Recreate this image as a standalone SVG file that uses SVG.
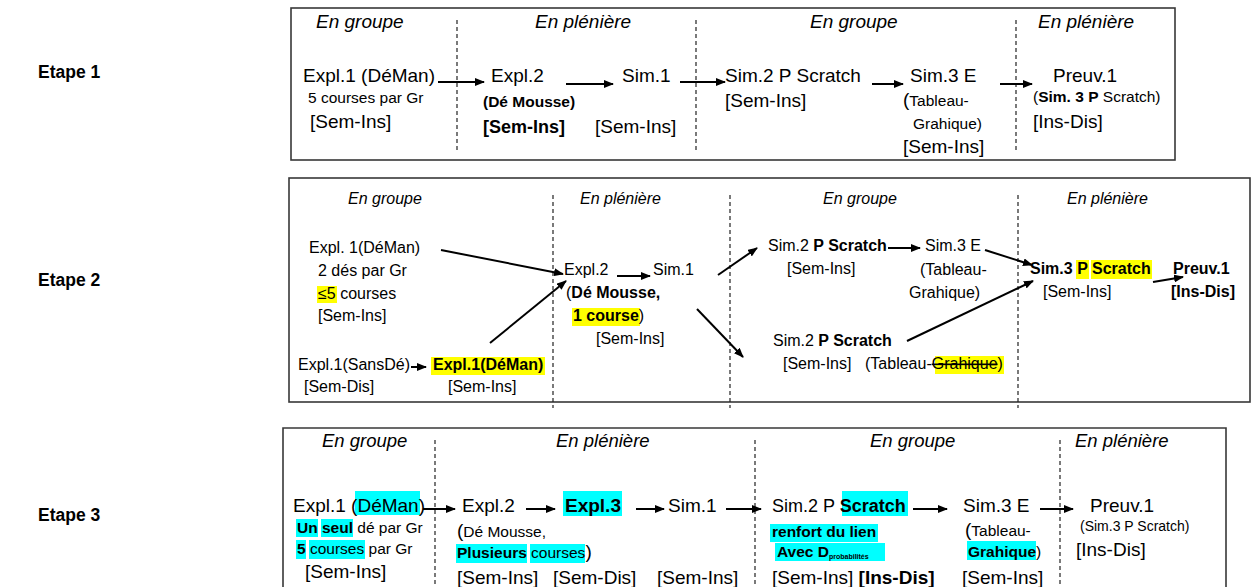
<svg xmlns="http://www.w3.org/2000/svg" width="1256" height="587" viewBox="0 0 1256 587">
<style>
text{font-family:"Liberation Sans",Arial,sans-serif;fill:#000}
.et{font-size:17.5px;font-weight:bold}
.h1{font-size:19px;font-style:italic}
.h2{font-size:16px;font-style:italic}
.h3{font-size:18.5px;font-style:italic}
.L{font-size:19px}
.M{font-size:16px}
.S{font-size:15.5px}
.b{font-weight:bold}
.box{fill:none;stroke:#383838;stroke-width:1.6}
.dash{stroke:#222;stroke-width:1.2;stroke-dasharray:4 3}
.arr{stroke:#000;stroke-width:2;fill:none;marker-end:url(#ah)}
.hy{fill:#FFFF00}
.hc{fill:#00FFFF}
</style>
<defs>
<marker id="ah" markerWidth="10" markerHeight="8" refX="9" refY="4" orient="auto" markerUnits="userSpaceOnUse"><path d="M0,0 L10,4 L0,8 z" fill="#000"/></marker>
</defs>
<rect width="1256" height="587" fill="#fff"/>

<g id="etapes">
<text class="et" x="38" y="78">Etape 1</text>
<text class="et" x="38" y="286">Etape 2</text>
<text class="et" x="38" y="521">Etape 3</text>
</g>

<!-- ETAPE 1 -->
<g id="etape1-frame">
<rect class="box" x="291" y="8" width="884" height="152"/>
<line class="dash" x1="457" y1="20" x2="457" y2="150"/>
<line class="dash" x1="696" y1="20" x2="696" y2="150"/>
<line class="dash" x1="1016" y1="20" x2="1016" y2="150"/>
<text class="h1" x="316" y="28">En groupe</text>
<text class="h1" x="535" y="28">En plénière</text>
<text class="h1" x="810" y="28">En groupe</text>
<text class="h1" x="1038" y="28">En plénière</text>
</g>
<g id="e1-expl1">
<text class="L" x="303" y="82">Expl.1 (DéMan)</text>
<text class="S" x="308" y="103">5 courses par Gr</text>
<text class="L" x="310" y="128">[Sem-Ins]</text>
</g>
<g id="e1-expl2">
<text class="L" x="491" y="82">Expl.2</text>
<text class="S b" x="483" y="107">(Dé Mousse)</text>
<text class="L b" x="483" y="133" style="font-size:18px">[Sem-Ins]</text>
</g>
<g id="e1-sim1">
<text class="L" x="622" y="82">Sim.1</text>
<text class="L" x="595" y="133">[Sem-Ins]</text>
</g>
<g id="e1-sim2">
<text class="L" x="725" y="82">Sim.2 P Scratch</text>
<text class="L" x="725" y="107">[Sem-Ins]</text>
</g>
<g id="e1-sim3">
<text class="L" x="910" y="82">Sim.3 E</text>
<text class="L" x="903" y="106">(<tspan class="S">Tableau-</tspan></text>
<text class="S" x="913" y="129">Grahique)</text>
<text class="L" x="903" y="153">[Sem-Ins]</text>
</g>
<g id="e1-preuv1">
<text class="L" x="1053" y="82">Preuv.1</text>
<text class="S" x="1033" y="102">(<tspan class="b">Sim. 3 P</tspan> Scratch)</text>
<text class="L" x="1033" y="128">[Ins-Dis]</text>
</g>
<g id="e1-connectors">
<line class="arr" x1="438" y1="82" x2="484" y2="82"/>
<line class="arr" x1="566" y1="84" x2="613" y2="84"/>
<line class="arr" x1="680" y1="82" x2="725" y2="82"/>
<line class="arr" x1="872" y1="84" x2="903" y2="84"/>
<line class="arr" x1="1000" y1="84" x2="1032" y2="84"/>
</g>

<!-- ETAPE 2 -->
<g id="etape2-frame">
<rect class="box" x="289" y="178" width="961" height="224"/>
<line class="dash" x1="553" y1="195" x2="553" y2="408"/>
<line class="dash" x1="730" y1="195" x2="730" y2="408"/>
<line class="dash" x1="1018" y1="195" x2="1018" y2="408"/>
<text class="h2" x="348" y="204">En groupe</text>
<text class="h2" x="580" y="204">En plénière</text>
<text class="h2" x="823" y="204">En groupe</text>
<text class="h2" x="1067" y="204">En plénière</text>
</g>
<g id="e2-expl1-deman">
<rect class="hy" x="317" y="286" width="20" height="17"/>
<text class="M" x="309" y="253">Expl. 1(DéMan)</text>
<text class="M" x="318" y="276">2 dés par Gr</text>
<text class="M" x="318" y="299">≤5 courses</text>
<text class="M" x="318" y="321">[Sem-Ins]</text>
</g>
<g id="e2-expl1-sansde">
<text class="M" x="298" y="370">Expl.1(SansDé)</text>
<text class="M" x="304" y="392">[Sem-Dis]</text>
</g>
<g id="e2-expl1-deman2">
<rect class="hy" x="431" y="357" width="114" height="18"/>
<text class="M b" x="433" y="370">Expl.1(DéMan)</text>
<text class="M" x="448" y="392">[Sem-Ins]</text>
</g>
<g id="e2-expl2">
<rect class="hy" x="572" y="308" width="68" height="18"/>
<text class="M" x="564" y="275">Expl.2</text>
<text class="M" x="566" y="298">(<tspan class="b">Dé Mousse,</tspan></text>
<text class="M" x="573" y="321"><tspan class="b">1 course</tspan>)</text>
<text class="M" x="596" y="344">[Sem-Ins]</text>
</g>
<g id="e2-sim1">
<text class="M" x="653" y="275">Sim.1</text>
</g>
<g id="e2-sim2a">
<text class="M" x="768" y="251">Sim.2 <tspan class="b">P Scratch</tspan></text>
<text class="M" x="787" y="274">[Sem-Ins]</text>
</g>
<g id="e2-sim3e">
<text class="M" x="925" y="251">Sim.3 E</text>
<text class="M" x="920" y="275">(Tableau-</text>
<text class="M" x="909" y="298">Grahique)</text>
</g>
<g id="e2-sim2b">
<rect class="hy" x="935" y="356" width="69" height="18"/>
<text class="M" x="773" y="346">Sim.2 <tspan class="b">P Scratch</tspan></text>
<text class="M" x="783" y="369">[Sem-Ins]</text>
<text class="M" x="865" y="369">(Tableau-<tspan style="text-decoration:line-through">Grahique</tspan>)</text>
</g>
<g id="e2-sim3p">
<rect class="hy" x="1076" y="260" width="13" height="19"/>
<rect class="hy" x="1091" y="260" width="61" height="19"/>
<text class="M b" x="1030" y="274">Sim.3 P Scratch</text>
<text class="M" x="1043" y="297">[Sem-Ins]</text>
</g>
<g id="e2-preuv1">
<text class="M b" x="1173" y="274">Preuv.1</text>
<text class="M b" x="1171" y="297">[Ins-Dis]</text>
</g>
<g id="e2-connectors">
<line class="arr" x1="441" y1="250" x2="563" y2="274"/>
<line class="arr" x1="490" y1="343" x2="566" y2="281"/>
<line class="arr" x1="411" y1="367" x2="426" y2="367"/>
<line class="arr" x1="617" y1="276" x2="650" y2="276"/>
<line class="arr" x1="718" y1="275" x2="757" y2="248"/>
<line class="arr" x1="697" y1="309" x2="743" y2="357"/>
<line class="arr" x1="888" y1="248" x2="920" y2="248"/>
<line class="arr" x1="985" y1="250" x2="1032" y2="265"/>
<line class="arr" x1="907" y1="341" x2="1033" y2="281"/>
<line class="arr" x1="1153" y1="282" x2="1183" y2="277"/>
</g>

<!-- ETAPE 3 -->
<g id="etape3-frame">
<path class="box" d="M283,600 V428 H1226 V600"/>
<line class="dash" x1="435" y1="440" x2="435" y2="587"/>
<line class="dash" x1="755" y1="440" x2="755" y2="587"/>
<line class="dash" x1="1060" y1="440" x2="1060" y2="587"/>
<text class="h3" x="322" y="447">En groupe</text>
<text class="h3" x="556" y="447">En plénière</text>
<text class="h3" x="870" y="447">En groupe</text>
<text class="h3" x="1075" y="447">En plénière</text>
</g>
<g id="e3-expl1">
<rect class="hc" x="355" y="491" width="65" height="24"/>
<rect class="hc" x="296" y="519" width="22" height="18"/>
<rect class="hc" x="321" y="519" width="32" height="18"/>
<rect class="hc" x="296" y="540" width="10" height="19"/>
<rect class="hc" x="309" y="540" width="56" height="19"/>
<text class="L" x="293" y="512">Expl.1 (DéMan)</text>
<text class="S" x="297" y="533"><tspan class="b">Un</tspan> <tspan class="b">seul</tspan> dé par Gr</text>
<text class="S" x="297" y="554"><tspan class="b">5</tspan> courses par Gr</text>
<text class="L" x="305" y="578">[Sem-Ins]</text>
</g>
<g id="e3-expl2">
<rect class="hc" x="456" y="544" width="71" height="19"/>
<rect class="hc" x="530" y="544" width="55" height="19"/>
<text class="L" x="462" y="512">Expl.2</text>
<text class="L" x="457" y="537">(<tspan class="S">Dé Mousse,</tspan></text>
<text class="S" x="457" y="558"><tspan class="b">Plusieurs</tspan> courses<tspan class="L">)</tspan></text>
<text class="L" x="457" y="584">[Sem-Ins]</text>
</g>
<g id="e3-expl3">
<rect class="hc" x="563" y="491" width="59" height="25"/>
<text class="L b" x="565" y="512">Expl.3</text>
<text class="L" x="553" y="584">[Sem-Dis]</text>
</g>
<g id="e3-sim1">
<text class="L" x="668" y="512">Sim.1</text>
<text class="L" x="657" y="584">[Sem-Ins]</text>
</g>
<g id="e3-sim2">
<rect class="hc" x="842" y="491" width="66" height="25"/>
<rect class="hc" x="770" y="524" width="108" height="18"/>
<rect class="hc" x="775" y="543" width="110" height="18"/>
<text class="L" x="772" y="512" style="font-size:18px">Sim.2 P <tspan class="b">Scratch</tspan></text>
<text class="S b" x="772" y="537">renfort du lien</text>
<text class="S b" x="777" y="557">Avec D<tspan style="font-size:7px" dy="2">probabilités</tspan></text>
<text class="L" x="772" y="584">[Sem-Ins] <tspan class="b">[Ins-Dis]</tspan></text>
</g>
<g id="e3-sim3">
<rect class="hc" x="967" y="541" width="69" height="19"/>
<text class="L" x="963" y="512">Sim.3 E</text>
<text class="L" x="965" y="536">(<tspan class="S">Tableau-</tspan></text>
<text class="S" x="968" y="557"><tspan class="b">Grahique</tspan>)</text>
<text class="L" x="962" y="584">[Sem-Ins]</text>
</g>
<g id="e3-preuv1">
<text class="L" x="1090" y="512">Preuv.1</text>
<text style="font-size:14px" x="1080" y="531">(Sim.3 P Scratch)</text>
<text class="L" x="1076" y="556">[Ins-Dis]</text>
</g>
<g id="e3-connectors">
<line class="arr" x1="423" y1="509" x2="455" y2="509"/>
<line class="arr" x1="526" y1="509" x2="555" y2="509"/>
<line class="arr" x1="636" y1="509" x2="664" y2="509"/>
<line class="arr" x1="726" y1="509" x2="761" y2="509"/>
<line class="arr" x1="913" y1="509" x2="947" y2="509"/>
<line class="arr" x1="1040" y1="509" x2="1073" y2="509"/>
</g>
</svg>
